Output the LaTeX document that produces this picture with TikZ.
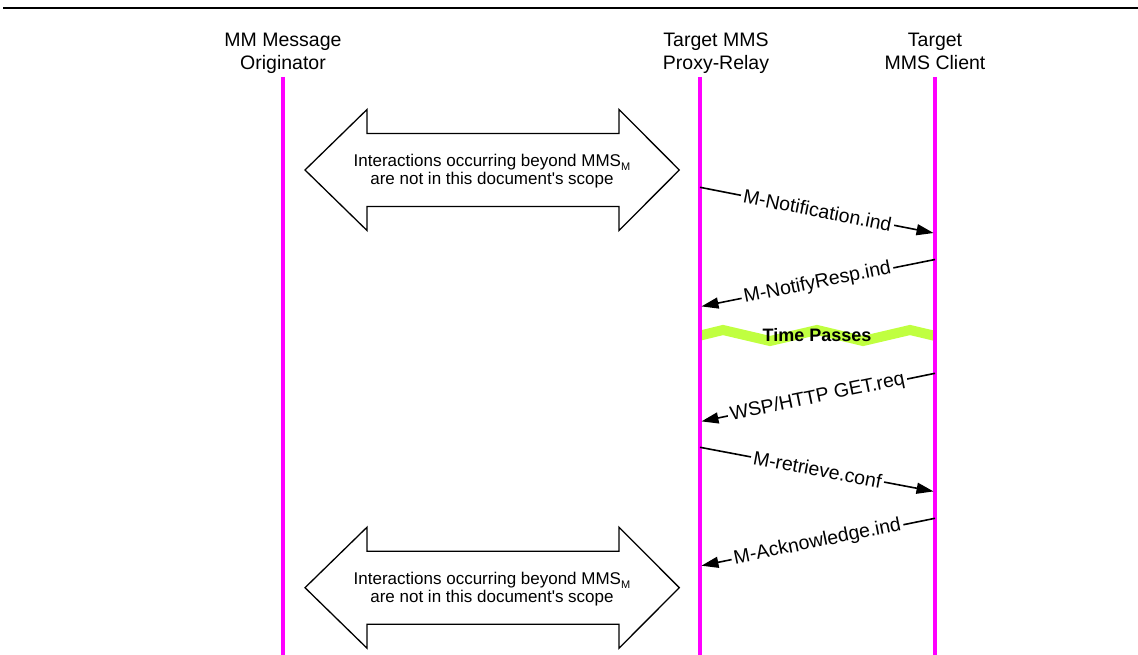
\documentclass[tikz,border=0pt]{standalone}
\usepackage{fontspec}
\setmainfont{Liberation Sans}[Ligatures=TeXOff]
\usetikzlibrary{arrows.meta}
\definecolor{lifemag}{RGB}{255,0,255}
\definecolor{wavegreen}{RGB}{192,255,64}
\begin{document}
\begin{tikzpicture}[x=1pt,y=-1pt,
  lifeline/.style={draw=lifemag,line width=3.3pt},
  header/.style={font=\fontsize{19.5}{22.5}\selectfont,inner sep=0pt,anchor=base},
  msg/.style={line width=1.6pt,-{Triangle[length=17pt,width=11pt]},shorten >=1.5pt},
  msglabel/.style={sloped,fill=white,inner sep=2.5pt,font=\fontsize{19.5}{20}\selectfont},
  scopearrow/.style={draw=black,line width=1.3pt,fill=white,line join=miter},
  scopetext/.style={font=\fontsize{17}{18}\selectfont,align=center,inner sep=0pt},
  timewave/.style={draw=wavegreen,line width=10pt,line join=miter},
  timetext/.style={font=\fontsize{18}{18}\selectfont\bfseries,inner sep=0pt}
]
\useasboundingbox (0,0) rectangle (1138,655);
% top rule
\coordinate (ruleL) at (3,8);
\coordinate (ruleR) at (1138,8);
\draw[line width=2.2pt] (ruleL) -- (ruleR);

% headers
\node[header] (h1a) at (283,47) {MM Message};
\node[header] (h1b) at (283,70) {Originator};
\node[header] (h2a) at (716,47) {Target MMS};
\node[header] (h2b) at (716,70) {Proxy-Relay};
\node[header] (h3a) at (935,47) {Target};
\node[header] (h3b) at (935,70) {MMS Client};

% time passes wave (below lifelines)
\draw[timewave] (700,335.6) -- (723,330) -- (770,341) -- (817,330) -- (863,341) -- (910,330) -- (935,335.9);
\node[timetext] (tp) at (817,335) {Time Passes};

% lifelines
\coordinate (L1t) at (283,77); \coordinate (L1b) at (283,655);
\coordinate (L2t) at (700,77); \coordinate (L2b) at (700,655);
\coordinate (L3t) at (935,77); \coordinate (L3b) at (935,655);
\draw[lifeline] (L1t) -- (L1b);
\draw[lifeline] (L2t) -- (L2b);
\draw[lifeline] (L3t) -- (L3b);

% scope double arrows
\foreach \cy/\nm in {170/sa1,587.7/sa2}{
  \draw[scopearrow] (305,\cy) -- (367,\cy-60.5) -- (367,\cy-36.5) -- (619,\cy-36.5)
     -- (619,\cy-60.5) -- (679.3,\cy) -- (619,\cy+60.5) -- (619,\cy+36.5)
     -- (367,\cy+36.5) -- (367,\cy+60.5) -- cycle;
  \node[scopetext] (\nm) at (492,\cy+1.5) {Interactions occurring beyond MMS\raisebox{-4pt}{\fontsize{11}{11}\selectfont M}\\are not in this document's scope};
}

% messages
\coordinate (m1a) at (700,187.3); \coordinate (m1b) at (935,233.3);
\coordinate (m2a) at (935,259.5); \coordinate (m2b) at (700,306.7);
\coordinate (m3a) at (935,373.3); \coordinate (m3b) at (700,421.7);
\coordinate (m4a) at (700,447.3); \coordinate (m4b) at (935,491.7);
\coordinate (m5a) at (935,518.3); \coordinate (m5b) at (700,566);
\draw[msg] (m1a) -- node[msglabel] (l1) {M-Notification.ind} (m1b);
\draw[msg] (m2a) -- node[msglabel] (l2) {M-NotifyResp.ind} (m2b);
\draw[msg] (m3a) -- node[msglabel] (l3) {WSP/HTTP GET.req} (m3b);
\draw[msg] (m4a) -- node[msglabel] (l4) {M-retrieve.conf} (m4b);
\draw[msg] (m5a) -- node[msglabel] (l5) {M-Acknowledge.ind} (m5b);
\end{tikzpicture}
\end{document}
